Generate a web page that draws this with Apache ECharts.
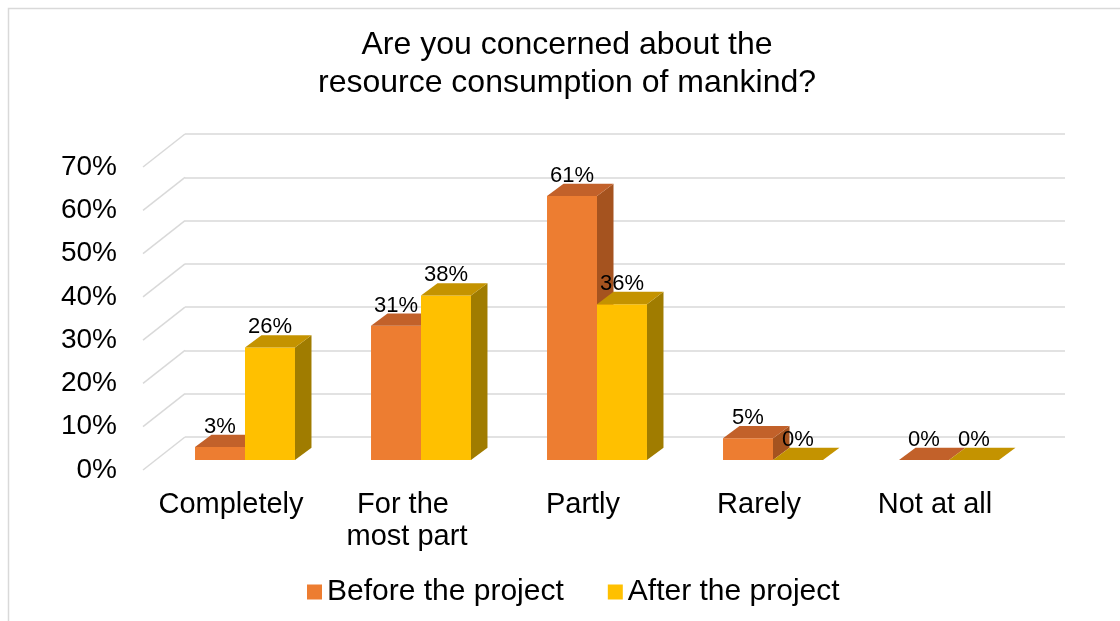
<!DOCTYPE html>
<html>
<head>
<meta charset="utf-8">
<script src="https://cdn.jsdelivr.net/npm/echarts@6/dist/echarts.min.js"></script>
<style>
  html, body { margin: 0; padding: 0; background: #fff; }
  #chart { width: 1120px; height: 621px; }
</style>
</head>
<body>
<div id="chart"></div>
<script>
// data
const categories = ['Completely', 'For the most part', 'Partly', 'Rarely', 'Not at all'];
const beforeValues = [3, 31, 61, 5, 0];
const afterValues = [26, 38, 36, 0, 0];
const yTicks = [0, 10, 20, 30, 40, 50, 60, 70];
const seriesNames = ['Before the project', 'After the project'];
const titleText = 'Are you concerned about the\nresource consumption of mankind?';

const FONT = '"Liberation Sans", Arial, sans-serif';
// fake 3d: depth of the bars and of the side wall
const DX = 16.5, DY = -12.3;
const WALL_DX = -42, WALL_DY = 33;

const palette = [
  { front: '#ED7D31', top: '#C2612A', side: '#A5531F' },
  { front: '#FFC000', top: '#C49300', side: '#A07C00' }
];

// draws one box per category, k = 0 left bar, k = 1 right bar
function barItem(k) {
  return function (params, api) {
    const idx = api.value(0), val = api.value(1);
    const base = api.coord([idx, 0]);
    const top = api.coord([idx, val]);
    const w = api.size([1, 0])[0] * 0.284;
    const x0 = k === 0 ? base[0] - w : base[0];
    const x1 = x0 + w;
    const c = palette[k];
    const children = [];
    if (val > 0) {
      children.push({ type: 'rect', shape: { x: x0, y: top[1], width: w, height: base[1] - top[1] }, style: { fill: c.front } });
      children.push({ type: 'polygon', shape: { points: [[x1, top[1]], [x1 + DX, top[1] + DY], [x1 + DX, base[1] + DY], [x1, base[1]]] }, style: { fill: c.side } });
    }
    children.push({ type: 'polygon', shape: { points: [[x0, top[1]], [x0 + DX, top[1] + DY], [x1 + DX, top[1] + DY], [x1, top[1]]] }, style: { fill: c.top } });
    children.push({ type: 'text', x: (x0 + x1) / 2, y: top[1] + DY - 8, style: { text: val + '%', font: '22px ' + FONT, fill: '#000', align: 'center', verticalAlign: 'middle' } });
    return { type: 'group', children: children };
  };
}

const chart = echarts.init(document.getElementById('chart'));

chart.setOption({
  animation: false,
  backgroundColor: '#fff',
  graphic: [
    { type: 'rect', silent: true, shape: { x: 8.5, y: 8.5, width: 1300, height: 800 }, style: { fill: null, stroke: '#D9D9D9', lineWidth: 1.5 } },
    { type: 'text', silent: true, x: 567, y: 26, style: { text: titleText, font: '32px ' + FONT, fill: '#000', align: 'center', verticalAlign: 'top', lineHeight: 38 } }
  ],
  legend: {
    data: seriesNames,
    left: 302,
    top: 571,
    icon: 'rect',
    itemWidth: 15,
    itemHeight: 15,
    itemGap: 44,
    textStyle: { fontSize: 30, fontFamily: FONT, color: '#000', lineHeight: 32 }
  },
  grid: [
    { left: 157, width: 880, top: 157, height: 303 },  // bars front plane
    { left: 185, width: 880, top: 134, height: 303 },  // back wall
    { left: 143, width: 880, top: 167, height: 303 }   // front edge, labels
  ],
  xAxis: [
    { gridIndex: 0, type: 'category', data: categories, show: false },
    { gridIndex: 1, type: 'value', min: 0, max: 1, show: false },
    {
      gridIndex: 2, type: 'category', data: categories,
      axisLine: { show: false }, axisTick: { show: false },
      axisLabel: { interval: 0, fontSize: 29, fontFamily: FONT, color: '#000', margin: 19, lineHeight: 32, width: 156, overflow: 'break' }
    }
  ],
  yAxis: [
    { gridIndex: 0, type: 'value', min: 0, max: 70, interval: 10, show: false },
    {
      gridIndex: 1, type: 'value', min: 0, max: 70, interval: 10,
      axisLabel: { show: false }, axisLine: { show: false }, axisTick: { show: false },
      splitLine: { show: true, lineStyle: { color: '#D9D9D9', width: 1.5 } }
    },
    {
      gridIndex: 2, type: 'value', min: 0, max: 70, interval: 10,
      splitLine: { show: false }, axisLine: { show: false }, axisTick: { show: false },
      axisLabel: { formatter: '{value}%', fontSize: 28, fontFamily: FONT, color: '#000', margin: 26 }
    }
  ],
  series: [
    {
      // side wall gridlines
      type: 'custom', xAxisIndex: 1, yAxisIndex: 1, silent: true,
      data: yTicks.map(v => [0, v]),
      renderItem: function (params, api) {
        const p = api.coord([0, api.value(1)]);
        return { type: 'line', shape: { x1: p[0], y1: p[1], x2: p[0] + WALL_DX, y2: p[1] + WALL_DY }, style: { stroke: '#D9D9D9', lineWidth: 1.5 } };
      }
    },
    {
      name: seriesNames[0], type: 'custom', xAxisIndex: 0, yAxisIndex: 0,
      itemStyle: { color: palette[0].front },
      data: beforeValues.map((v, i) => [i, v]),
      renderItem: barItem(0)
    },
    {
      name: seriesNames[1], type: 'custom', xAxisIndex: 0, yAxisIndex: 0,
      itemStyle: { color: palette[1].front },
      data: afterValues.map((v, i) => [i, v]),
      renderItem: barItem(1)
    }
  ]
});
</script>
</body>
</html>
